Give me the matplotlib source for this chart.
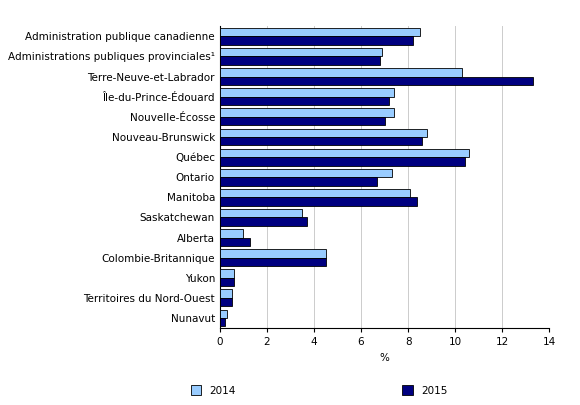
import matplotlib
matplotlib.use("Agg")
import matplotlib.pyplot as plt
import numpy as np

categories = [
    "Administration publique canadienne",
    "Administrations publiques provinciales¹",
    "Terre-Neuve-et-Labrador",
    "Île-du-Prince-Édouard",
    "Nouvelle-Écosse",
    "Nouveau-Brunswick",
    "Québec",
    "Ontario",
    "Manitoba",
    "Saskatchewan",
    "Alberta",
    "Colombie-Britannique",
    "Yukon",
    "Territoires du Nord-Ouest",
    "Nunavut",
]
values_2014 = [8.5, 6.9, 10.3, 7.4, 7.4, 8.8, 10.6, 7.3, 8.1, 3.5, 1.0, 4.5, 0.6, 0.5, 0.3]
values_2015 = [8.2, 6.8, 13.3, 7.2, 7.0, 8.6, 10.4, 6.7, 8.4, 3.7, 1.3, 4.5, 0.6, 0.5, 0.2]

fig = plt.figure(figsize=(5.8, 4.05), dpi=100)
ax = fig.add_axes([0.379, 0.19, 0.568, 0.745])

y = np.arange(len(categories))
h = 0.42
ax.barh(y - h / 2, values_2014, h, color="#99ccff", edgecolor="black", linewidth=0.6, label="2014", zorder=3)
ax.barh(y + h / 2, values_2015, h, color="#000080", edgecolor="black", linewidth=0.6, label="2015", zorder=3)

ax.set_yticks(y)
ax.set_yticklabels(categories, fontsize=7.5)
ax.set_ylim(len(categories) - 0.5, -0.5)
ax.set_xlim(0, 14)
ax.set_xticks(range(0, 15, 2))
ax.tick_params(axis="x", labelsize=7.5, length=3)
ax.tick_params(axis="y", length=0)
ax.grid(True, axis="x", color="#cccccc", linewidth=0.7, zorder=0)
ax.set_xlabel("%", fontsize=7.5)
for s in ["top", "right"]:
    ax.spines[s].set_visible(False)

handles, labels = ax.get_legend_handles_labels()
fig.legend(handles, labels, loc="lower center", bbox_to_anchor=(0.55, 0.0), ncol=2,
           frameon=False, fontsize=7.5, columnspacing=16, handlelength=1.0, handleheight=1.0)

fig.savefig("out.png", dpi=100)
